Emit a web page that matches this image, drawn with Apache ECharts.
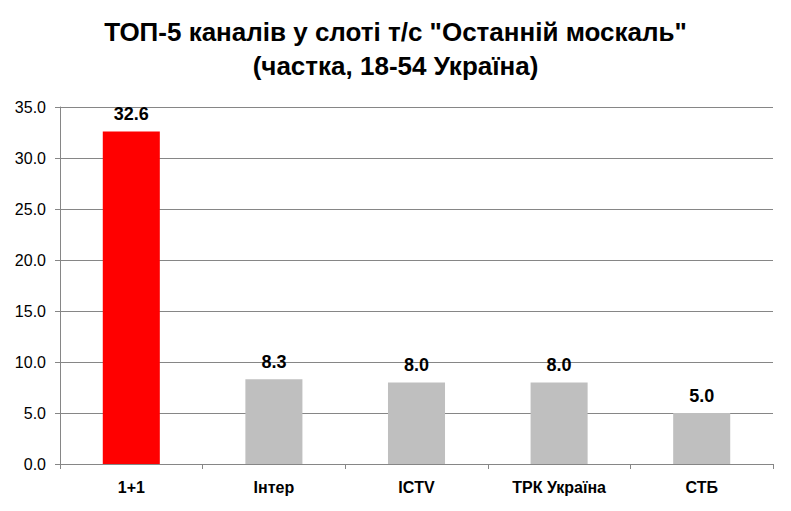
<!DOCTYPE html>
<html>
<head>
<meta charset="utf-8">
<script src="https://cdn.jsdelivr.net/npm/echarts@6/dist/echarts.min.js"></script>
<style>
  html, body { margin: 0; padding: 0; background: #fff; }
  #main { width: 791px; height: 511px; }
</style>
</head>
<body>
<div id="main"></div>
<script>
const categories = ['1+1', 'Інтер', 'ICTV', 'ТРК Україна', 'СТБ'];
const shares = [32.6, 8.3, 8.0, 8.0, 5.0];
const barColors = ['#ff0000', '#bfbfbf', '#bfbfbf', '#bfbfbf', '#bfbfbf'];

const font = 'Liberation Sans, Arial, sans-serif';
var myChart = echarts.init(document.getElementById('main'), null, {renderer: 'svg'});
myChart.setOption({
  animation: false,
  title: {
    text: 'ТОП-5 каналів у слоті т/с "Останній москаль"\n(частка, 18-54 Україна)',
    left: 'center',
    top: 10,
    textStyle: { fontFamily: font, fontSize: 26, fontWeight: 'bold', color: '#000', lineHeight: 34 }
  },
  grid: { left: 60, right: 18, top: 107, bottom: 47 },
  xAxis: {
    type: 'category',
    data: categories,
    axisLine: { lineStyle: { color: '#868686' } },
    axisTick: { show: true, length: 5, lineStyle: { color: '#868686' } },
    axisLabel: { fontFamily: font, fontSize: 16, fontWeight: 'bold', color: '#000', margin: 15 }
  },
  yAxis: {
    type: 'value',
    min: 0,
    max: 35,
    interval: 5,
    axisLine: { show: true, lineStyle: { color: '#868686' } },
    axisTick: { show: true, inside: false, length: 5, lineStyle: { color: '#868686' } },
    splitLine: { lineStyle: { color: '#868686' } },
    axisLabel: {
      fontFamily: font, fontSize: 16, color: '#000', margin: 14,
      formatter: v => v.toFixed(1)
    }
  },
  series: [{
    type: 'bar',
    barWidth: '40%',
    data: shares.map((v, i) => ({ value: v, itemStyle: { color: barColors[i] } })),
    label: {
      show: true,
      position: 'top',
      distance: 8,
      fontFamily: font, fontSize: 18, fontWeight: 'bold', color: '#000',
      formatter: p => p.value.toFixed(1)
    }
  }]
});
</script>
</body>
</html>
